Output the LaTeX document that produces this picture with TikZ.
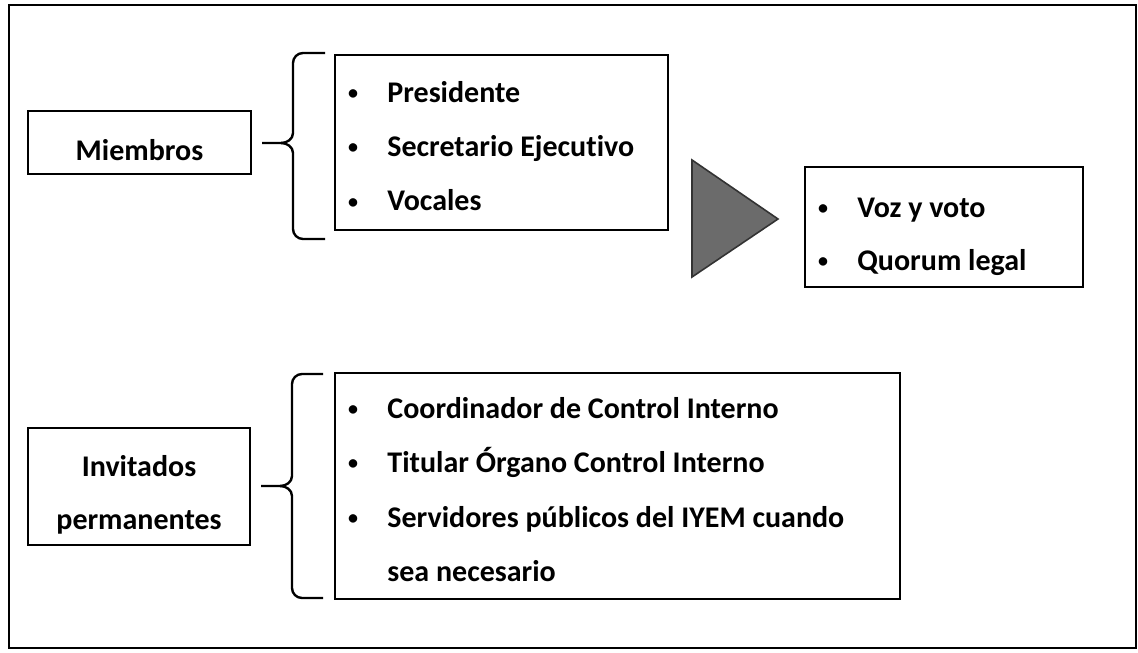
\documentclass[tikz,border=0pt]{standalone}
\usepackage{fontspec}
\setmainfont{Carlito}[Ligatures={NoCommon}]
\begin{document}
\begin{tikzpicture}[x=0.5pt,y=-0.5pt,
  box/.style={draw=black,line width=1.2pt,inner sep=0pt,fill=white},
  txt/.style={inner sep=0pt,anchor=base west,font=\fontsize{15pt}{18pt}\selectfont\bfseries},
  ctxt/.style={inner sep=0pt,anchor=base,font=\fontsize{15pt}{18pt}\selectfont\bfseries},
  bul/.style={inner sep=0pt,anchor=base,font=\fontsize{10pt}{12pt}\selectfont\bfseries},
  brace/.style={draw=black,line width=1.2pt,line join=round},
  tri/.style={draw=black!80,fill=black!58,line width=0.8pt,line join=miter}]
\useasboundingbox (0,0) rectangle (1138,652);
% outer frame
\draw[line width=1.2pt] (9,5) rectangle (1136,648);
% boxes
\node[box,minimum width=111.5pt,minimum height=31.5pt] (miembros) at (139.5,142.5) {};
\node[box,minimum width=111pt,minimum height=58.5pt] (invitados) at (139,486.5) {};
\node[box,minimum width=166.5pt,minimum height=87.5pt] (lista1) at (501.5,142.5) {};
\node[box,minimum width=139pt,minimum height=60pt] (derechos) at (944,227) {};
\node[box,minimum width=282.5pt,minimum height=113pt] (lista2) at (617.5,486) {};
% triangle
\draw[tri] (692,160) -- (778,219) -- (692,277) -- cycle;
% braces
\coordinate (t1) at (262,143);
\coordinate (t2) at (261,486);
\draw[brace] (t1) -- (281,143) to[out=0,in=-90] (293,133) -- (293,63) to[out=90,in=180] (303,53) -- (325,53);
\draw[brace] (281,143) to[out=0,in=90] (293,153) -- (293,229) to[out=-90,in=180] (303,239) -- (325,239);
\draw[brace] (t2) -- (280,486) to[out=0,in=-90] (292,476) -- (292,384) to[out=90,in=180] (302,374) -- (323,374);
\draw[brace] (280,486) to[out=0,in=90] (292,496) -- (292,588) to[out=-90,in=180] (302,598) -- (323,598);
% left labels
\node[ctxt] (lm) at (139.5,161) {Miembros};
\node[ctxt] (li1) at (139,476) {Invitados};
\node[ctxt] (li2) at (139,529) {permanentes};
% list 1
\node[bul] (b11) at (353,100) {•};
\node[txt] (p1) at (387,103) {Presidente};
\node[bul] (b12) at (353,154) {•};
\node[txt] (p2) at (387,157) {Secretario Ejecutivo};
\node[bul] (b13) at (353,208) {•};
\node[txt] (p3) at (387,211) {Vocales};
% list 3
\node[bul] (b31) at (823,214) {•};
\node[txt] (d1) at (857,217) {Voz y voto};
\node[bul] (b32) at (823,267) {•};
\node[txt] (d2) at (857,270) {Quorum legal};
% list 2
\node[bul] (b21) at (353,415) {•};
\node[txt] (q1) at (387,418) {Coordinador de Control Interno};
\node[bul] (b22) at (353,469) {•};
\node[txt] (q2) at (387,472) {Titular Órgano Control Interno};
\node[bul] (b23) at (353,524) {•};
\node[txt] (q3) at (387,527) {Servidores públicos del IYEM cuando};
\node[txt] (q4) at (387,581) {sea necesario};
\end{tikzpicture}
\end{document}
